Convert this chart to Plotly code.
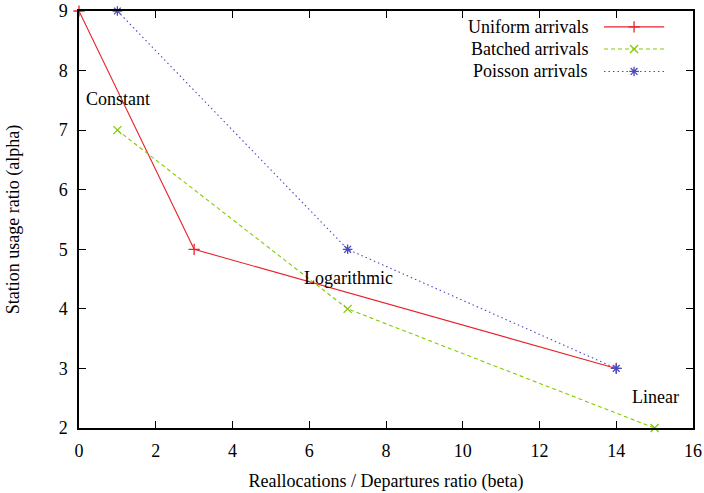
import plotly.graph_objects as go

uniform_x = [0, 3, 14]
uniform_y = [9, 5, 3]
batched_x = [1, 7, 15]
batched_y = [7, 4, 2]
poisson_x = [1, 7, 14]
poisson_y = [9, 5, 3]

series_names = ["Uniform arrivals", "Batched arrivals", "Poisson arrivals"]
labels = ["Constant", "Logarithmic", "Linear"]
label_x = [0.13, 5.81, 14.36]
label_y = [7.52, 4.52, 2.52]

RED = "#e8232a"
GREEN = "#80cc00"
BLUE = "#4b4bbb"
FONT = "Liberation Serif"
FS = 18

fig = go.Figure()
styles = [
    (uniform_x, uniform_y, RED, "solid", "cross-thin"),
    (batched_x, batched_y, GREEN, "4px,3px", "x-thin"),
    (poisson_x, poisson_y, BLUE, "1.5px,3px", "asterisk"),
]
for (xs, ys, c, d, sym), name in zip(styles, series_names):
    fig.add_trace(go.Scatter(x=xs, y=ys, mode="lines+markers", name=name,
                             line=dict(color=c, width=1.1, dash=d),
                             marker=dict(symbol=sym, size=8, color=c,
                                         line=dict(color=c, width=1.3)),
                             showlegend=False, cliponaxis=False))

# gnuplot-style legend (text right, sample at right)
legend_rows = [0.962, 0.909, 0.855]
for (xs, ys, c, d, sym), name, ry in zip(styles, series_names, legend_rows):
    fig.add_trace(go.Scatter(x=[0.855, 0.904, 0.953], y=[ry, ry, ry], mode="lines",
                             line=dict(color=c, width=1.1, dash=d),
                             xaxis="x2", yaxis="y2", showlegend=False, hoverinfo="skip"))
    fig.add_trace(go.Scatter(x=[0.904], y=[ry], mode="markers",
                             marker=dict(symbol=sym, size=8, color=c,
                                         line=dict(color=c, width=1.3)),
                             xaxis="x2", yaxis="y2", showlegend=False, hoverinfo="skip"))
    fig.add_annotation(x=0.832, y=ry, xref="x2", yref="y2", text=name, showarrow=False,
                       xanchor="right", yanchor="middle",
                       font=dict(family=FONT, size=FS, color="black"))

for t, lx, ly in zip(labels, label_x, label_y):
    fig.add_annotation(x=lx, y=ly, text=t, showarrow=False, xanchor="left",
                       yanchor="middle", font=dict(family=FONT, size=FS, color="black"))

axis_common = dict(showgrid=False, zeroline=False, showline=True, linecolor="black",
                   linewidth=1.5, mirror="ticks", ticks="inside", ticklen=7,
                   tickcolor="black", tickwidth=1, automargin=False,
                   tickfont=dict(family=FONT, size=FS, color="black"))

fig.update_layout(
    width=704, height=493,
    margin=dict(l=79, r=11, t=11, b=65),
    paper_bgcolor="white", plot_bgcolor="white",
    xaxis=dict(range=[0, 16], dtick=2, ticklabelstandoff=6,
               title=dict(text="Reallocations / Departures ratio (beta)",
                          font=dict(family=FONT, size=FS, color="black"), standoff=14),
               **axis_common),
    yaxis=dict(range=[2, 9], dtick=1, ticklabelstandoff=6,
               title=dict(text="Station usage ratio (alpha)",
                          font=dict(family=FONT, size=FS, color="black"), standoff=34),
               **axis_common),
    xaxis2=dict(range=[0, 1], overlaying="x", visible=False, fixedrange=True),
    yaxis2=dict(range=[0, 1], overlaying="y", visible=False, fixedrange=True),
    showlegend=False,
)

fig.write_html("out.html", config={"displayModeBar": False},
               post_script="document.body.style.margin='0';")
